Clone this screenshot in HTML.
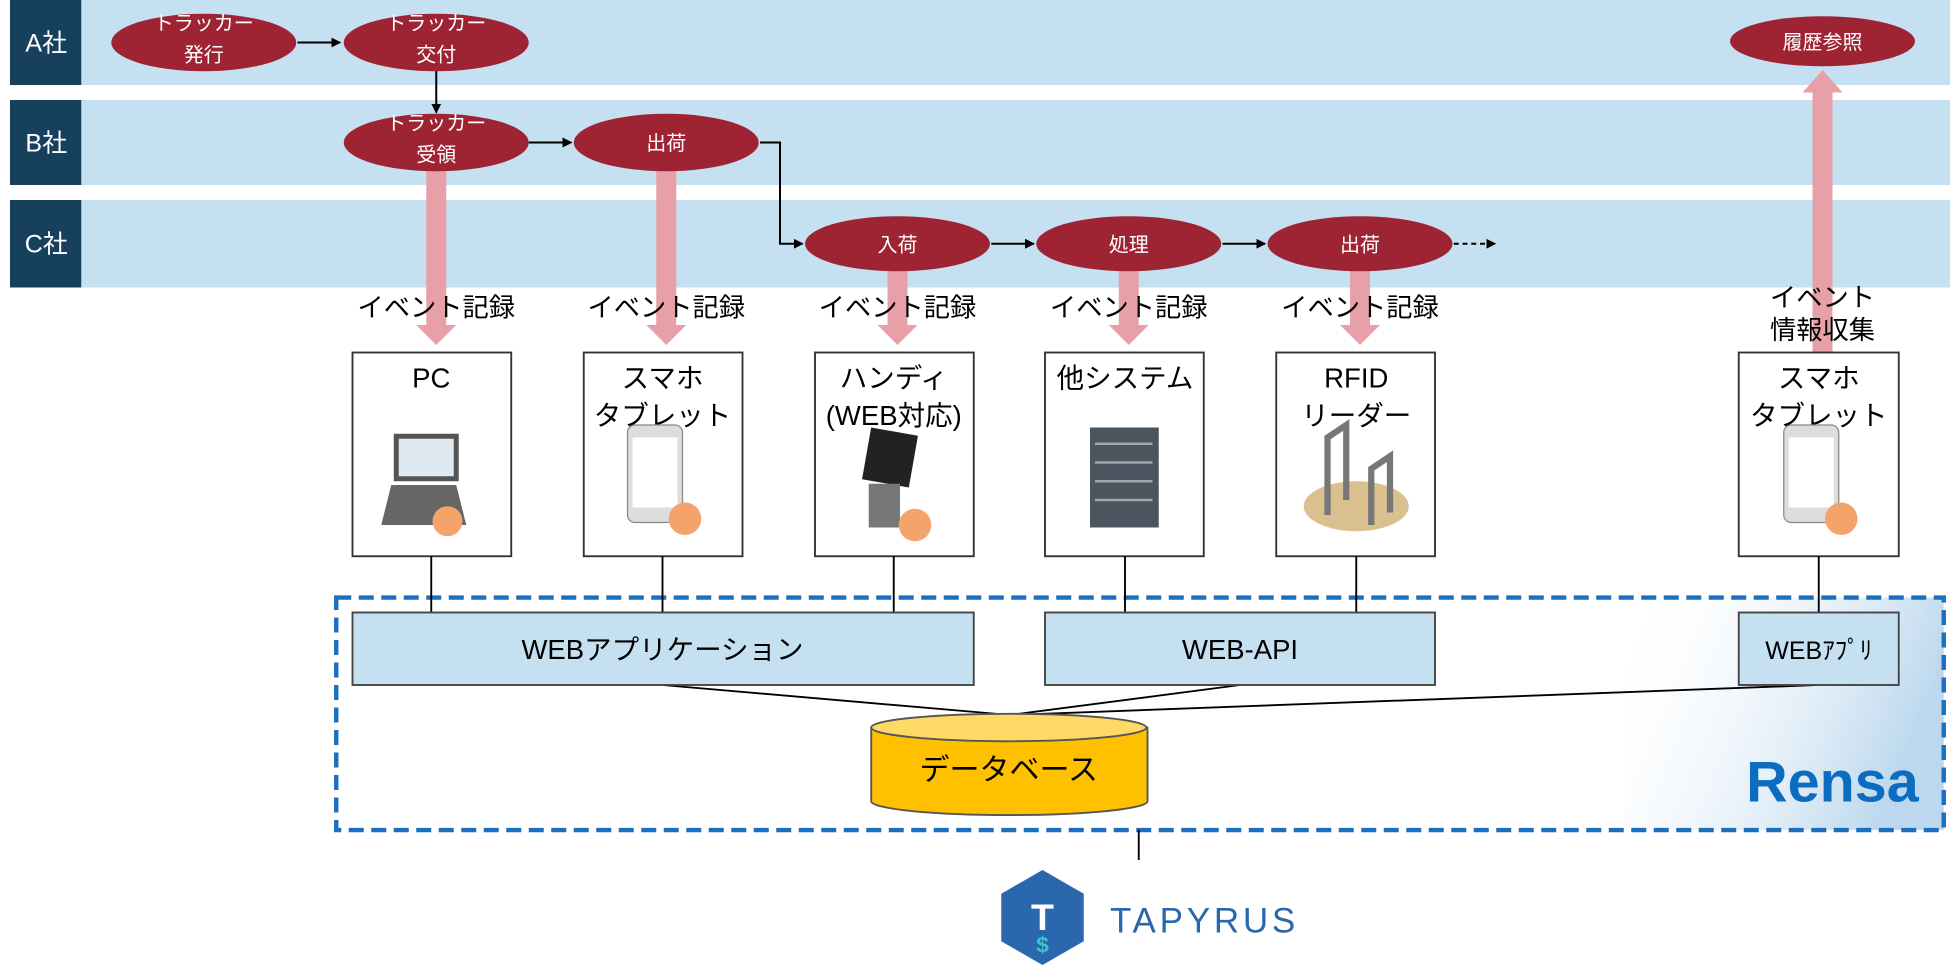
<!DOCTYPE html>
<html><head><meta charset="utf-8"><style>html,body{margin:0;padding:0;background:#fff;}svg{display:block}</style></head>
<body>
<svg width="1950" height="970" viewBox="0 0 1560 776" xmlns="http://www.w3.org/2000/svg" font-family="'Liberation Sans','Noto Sans CJK JP',sans-serif">
<defs>
<marker id="ah" markerWidth="8" markerHeight="8" refX="7" refY="4" orient="auto" markerUnits="userSpaceOnUse"><path d="M0,0 L8,4 L0,8z" fill="#000"/></marker>
<linearGradient id="rg" x1="0" y1="0" x2="1" y2="0.3"><stop offset="0" stop-color="#fff" stop-opacity="0"/><stop offset="1" stop-color="#bcd8ee"/></linearGradient>
</defs>
<!-- lanes -->
<rect x="8" y="0" width="1552" height="68" fill="#c5e0f0"/>
<rect x="8" y="80" width="1552" height="68" fill="#c5e0f0"/>
<rect x="8" y="160" width="1552" height="70" fill="#c5e0f0"/>
<rect x="8" y="0" width="57" height="68" fill="#17405c"/>
<rect x="8" y="80" width="57" height="68" fill="#17405c"/>
<rect x="8" y="160" width="57" height="70" fill="#17405c"/>
<g fill="#fff" font-size="20" text-anchor="middle"><text x="37" y="41">A社</text><text x="37" y="121">B社</text><text x="37" y="202">C社</text></g>

<!-- flow arrows -->
<g stroke="#000" stroke-width="1.6" fill="none">
<line x1="238" y1="34" x2="272" y2="34" marker-end="url(#ah)"/>
<line x1="349" y1="56" x2="349" y2="90" marker-end="url(#ah)"/>
<line x1="423" y1="114" x2="457" y2="114" marker-end="url(#ah)"/>
<polyline points="608,114 624,114 624,195 642,195" marker-end="url(#ah)"/>
<line x1="793" y1="195" x2="827" y2="195" marker-end="url(#ah)"/>
<line x1="978" y1="195" x2="1012" y2="195" marker-end="url(#ah)"/>
<line x1="1163" y1="195" x2="1196" y2="195" stroke-dasharray="4,3" marker-end="url(#ah)"/>
</g>

<!-- pink arrows -->
<g fill="#e8a0a8">
<rect x="341" y="136" width="16" height="124"/><path d="M333,260 L365,260 L349,276z"/>
<rect x="525" y="136" width="16" height="124"/><path d="M517,260 L549,260 L533,276z"/>
<rect x="710" y="216" width="16" height="44"/><path d="M702,260 L734,260 L718,276z"/>
<rect x="895" y="216" width="16" height="44"/><path d="M887,260 L919,260 L903,276z"/>
<rect x="1080" y="216" width="16" height="44"/><path d="M1072,260 L1104,260 L1088,276z"/>
<rect x="1450" y="72" width="16" height="212"/><path d="M1442,74 L1474,74 L1458,56z"/>
</g>

<!-- ellipses -->
<g fill="#9e2434">
<ellipse cx="163" cy="34" rx="74" ry="23"/>
<ellipse cx="349" cy="34" rx="74" ry="23"/>
<ellipse cx="349" cy="114" rx="74" ry="23"/>
<ellipse cx="533" cy="114" rx="74" ry="23"/>
<ellipse cx="718" cy="195" rx="74" ry="22"/>
<ellipse cx="903" cy="195" rx="74" ry="22"/>
<ellipse cx="1088" cy="195" rx="74" ry="22"/>
<ellipse cx="1458" cy="33" rx="74" ry="20"/>
</g>
<g fill="#fff" font-size="16" text-anchor="middle">
<text x="163" y="24">トラッカー</text><text x="163" y="49">発行</text>
<text x="349" y="24">トラッカー</text><text x="349" y="49">交付</text>
<text x="349" y="104">トラッカー</text><text x="349" y="129">受領</text>
<text x="533" y="120">出荷</text>
<text x="718" y="201">入荷</text><text x="903" y="201">処理</text><text x="1088" y="201">出荷</text>
<text x="1458" y="39">履歴参照</text>
</g>

<!-- event labels -->
<g font-size="21" text-anchor="middle" fill="#000">
<text x="349" y="253">イベント記録</text><text x="533" y="253">イベント記録</text><text x="718" y="253">イベント記録</text>
<text x="903" y="253">イベント記録</text><text x="1088" y="253">イベント記録</text>
<text x="1458" y="245">イベント</text><text x="1458" y="271">情報収集</text>
</g>

<!-- device boxes -->
<g fill="#fff" stroke="#333" stroke-width="1.5">
<rect x="282" y="282" width="127" height="163"/><rect x="467" y="282" width="127" height="163"/>
<rect x="652" y="282" width="127" height="163"/><rect x="836" y="282" width="127" height="163"/>
<rect x="1021" y="282" width="127" height="163"/><rect x="1391" y="282" width="128" height="163"/>
</g>
<g font-size="22" text-anchor="middle" fill="#000">
<text x="345" y="310">PC</text>
<text x="530" y="310">スマホ</text><text x="530" y="340">タブレット</text>
<text x="715" y="310">ハンディ</text><text x="715" y="340">(WEB対応)</text>
<text x="900" y="310">他システム</text>
<text x="1085" y="310">RFID</text><text x="1085" y="340">リーダー</text>
<text x="1455" y="310">スマホ</text><text x="1455" y="340">タブレット</text>
</g>
<!-- icons -->
<g>
<rect x="315" y="347" width="52" height="38" fill="#555"/><rect x="319" y="351" width="44" height="30" fill="#dfe9f2"/>
<path d="M305,420 L373,420 L365,388 L313,388z" fill="#666"/>
<circle cx="358" cy="417" r="12" fill="#f4a46a"/>
<rect x="502" y="340" width="44" height="78" rx="6" fill="#ddd" stroke="#888"/><rect x="506" y="350" width="36" height="56" fill="#fff"/>
<circle cx="548" cy="415" r="13" fill="#f4a46a"/>
<rect x="693" y="345" width="38" height="42" fill="#222" transform="rotate(10 712 366)"/><rect x="695" y="387" width="25" height="35" fill="#777"/>
<circle cx="732" cy="420" r="13" fill="#f4a46a"/>
<rect x="872" y="342" width="55" height="80" fill="#4a5560"/>
<g stroke="#9aa" stroke-width="2"><line x1="876" y1="355" x2="922" y2="355"/><line x1="876" y1="370" x2="922" y2="370"/><line x1="876" y1="385" x2="922" y2="385"/><line x1="876" y1="400" x2="922" y2="400"/></g>
<ellipse cx="1085" cy="405" rx="42" ry="20" fill="#d9c08e"/>
<g stroke="#777" stroke-width="5" fill="none"><path d="M1062,412 L1062,350 L1077,340 L1077,400"/><path d="M1097,420 L1097,375 L1112,365 L1112,410"/></g>
<rect x="1427" y="340" width="44" height="78" rx="6" fill="#ddd" stroke="#888"/><rect x="1431" y="350" width="36" height="56" fill="#fff"/>
<circle cx="1473" cy="415" r="13" fill="#f4a46a"/>
</g>

<!-- rensa area -->
<rect x="1300" y="478" width="255" height="186" fill="url(#rg)"/>
<rect x="269" y="478" width="1286" height="186" fill="none" stroke="#1a6fbf" stroke-width="3.5" stroke-dasharray="12,6"/>
<g stroke="#000" stroke-width="1.5">
<line x1="345" y1="445" x2="345" y2="490"/><line x1="530" y1="445" x2="530" y2="490"/><line x1="715" y1="445" x2="715" y2="490"/>
<line x1="900" y1="445" x2="900" y2="490"/><line x1="1085" y1="445" x2="1085" y2="490"/><line x1="1455" y1="445" x2="1455" y2="490"/>
<line x1="530" y1="548" x2="808" y2="572"/><line x1="992" y1="548" x2="808" y2="572"/><line x1="1455" y1="548" x2="808" y2="572"/>
<line x1="911" y1="664" x2="911" y2="688"/>
</g>
<g fill="#c5e0f0" stroke="#444" stroke-width="1.5">
<rect x="282" y="490" width="497" height="58"/><rect x="836" y="490" width="312" height="58"/><rect x="1391" y="490" width="128" height="58"/>
</g>
<g font-size="22" text-anchor="middle" fill="#000">
<text x="530" y="527">WEBアプリケーション</text><text x="992" y="527">WEB-API</text><text x="1455" y="527" font-size="20">WEBｱﾌﾟﾘ</text>
</g>
<!-- db -->
<path d="M697,582 L697,641 A110,11 0 0 0 918,641 L918,582z" fill="#ffc000" stroke="#555" stroke-width="1.5"/>
<ellipse cx="807" cy="582" rx="110" ry="11" fill="#ffd966" stroke="#555" stroke-width="1.5"/>
<text x="807" y="624" font-size="24" text-anchor="middle">データベース</text>
<text x="1535" y="641" font-size="46" font-weight="bold" fill="#0b6cc0" text-anchor="end">Rensa</text>
<!-- tapyrus -->
<path d="M834,696 L867,715 L867,753 L834,772 L801,753 L801,715z" fill="#2a67ad"/>
<text x="834" y="744" font-size="30" font-weight="bold" fill="#fff" text-anchor="middle">T</text>
<text x="834" y="762" font-size="18" font-weight="bold" fill="#3cc3d3" text-anchor="middle">$</text>
<text x="888" y="746" font-size="28" fill="#2a67ad" letter-spacing="3">TAPYRUS</text>
</svg>
</body></html>
